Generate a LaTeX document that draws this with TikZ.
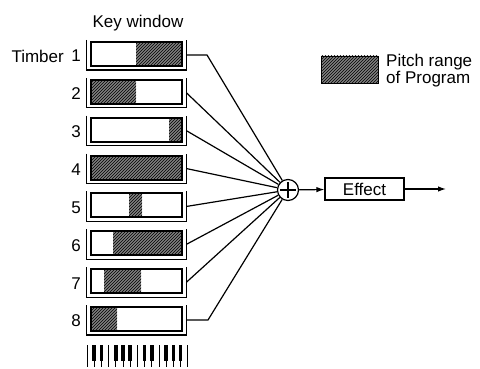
\documentclass[tikz,border=0pt]{standalone}
\usepackage{fontspec}
\setmainfont{Liberation Sans}
\usetikzlibrary{patterns,arrows.meta}
\begin{document}
\begin{tikzpicture}[x=1pt,y=-1pt,
  innerbox/.style={line width=1.9pt},
  brk/.style={line width=1.2pt},
  hatch/.style={fill=black!50, postaction={pattern=north east lines, pattern color=black}},
  conn/.style={line width=1.2pt},
  lbl/.style={font=\fontsize{17}{17}\selectfont, inner sep=0pt},
  arr/.style={conn,-{Latex[length=8pt,width=5.5pt]}}]
\useasboundingbox (0,0) rectangle (480,369);
\node[lbl] (kw) at (138,23) {Key window};
\node[lbl, anchor=east] (timber) at (64,56) {Timber};
\foreach \i/\a/\b in {1/136/182, 2/91/136, 3/169/182, 4/91/182, 5/129/142, 6/113/182, 7/104/141, 8/91/117}{
  \pgfmathsetmacro\t{42+37.86*(\i-1)}
  \fill[hatch] (\a,\t) rectangle (\b,\t+24);
  \draw[innerbox] (91,\t) rectangle (182,\t+24);
  \draw[brk] (86.5,\t-2) -- (86.5,\t+28) -- (186.5,\t+28) -- (186.5,\t-2);
  \coordinate (r\i) at (186.5,\t+13);
  \node[lbl, anchor=east] (n\i) at (81,\t+14) {\i};
}
% keyboard
\foreach \k in {0,...,14}{
  \draw[line width=0.9pt] (87+\k*7.2,345) -- (87+\k*7.2,367);
}
\foreach \k in {1,2,4,5,6,8,9,11,12,13}{
  \fill (87+\k*7.2-1.8,345) rectangle (87+\k*7.2+1.8,361);
}
% summing junction
\node[draw, circle, minimum size=21pt, inner sep=0pt, line width=1.2pt] (sum) at (288,190) {};
\draw[line width=1.2pt] ([xshift=3pt]sum.west) -- ([xshift=-3pt]sum.east);
\draw[line width=1.2pt] ([yshift=-3pt]sum.north) -- ([yshift=3pt]sum.south);
% connectors
\coordinate (k1) at (207,55);
\coordinate (k8) at (208,320);
\draw[conn] (r1) -- (k1) -- (sum);
\draw[conn] (r8) -- (k8) -- (sum);
\foreach \i in {2,...,7}{ \draw[conn] (r\i) -- (sum); }
% effect
\node[draw, line width=1.2pt, minimum width=79pt, minimum height=22pt, lbl] (eff) at (364.5,189) {Effect};
\coordinate (out) at (446,189);
\draw[arr] (sum) -- (eff);
\draw[arr] (eff) -- (out);
% legend
\draw[hatch, line width=0.8pt] (321,56) rectangle (378,83);
\node[lbl, anchor=west, align=left] (leg) at (386,71) {Pitch range\\of Program};
\end{tikzpicture}
\end{document}
